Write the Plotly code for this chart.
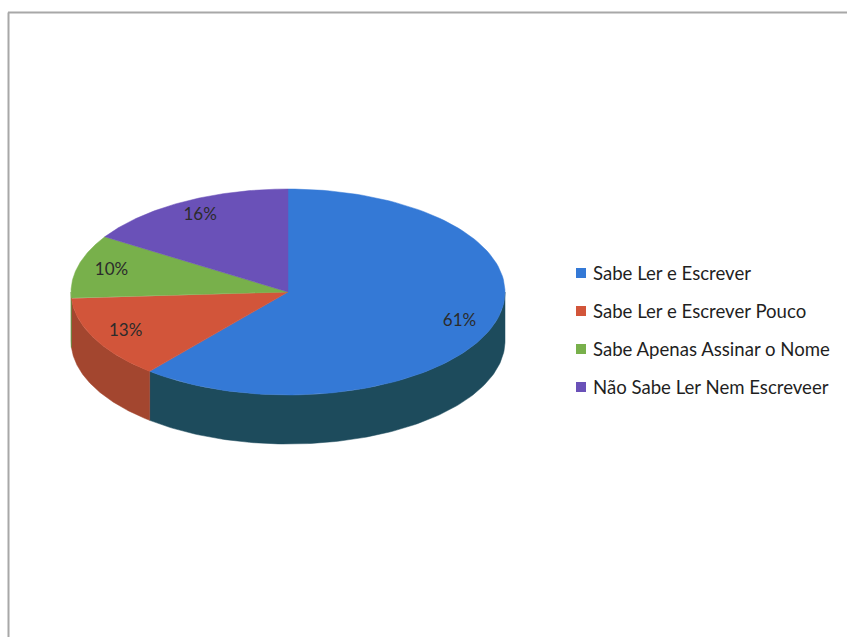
import numpy as np
import plotly.graph_objects as go

# Literacy categories and their shares (%)
labels = [
    "Sabe Ler e Escrever",
    "Sabe Ler e Escrever Pouco",
    "Sabe Apenas Assinar o Nome",
    "Não Sabe Ler Nem Escreveer",
]
values = [61, 13, 10, 16]
top_colors = ["#3479d6", "#d2553a", "#78b04b", "#6a51b8"]
side_colors = ["#1d4b5c", "#a3462f", "#5c8a38", "#513d92"]

# Geometry of the tilted pie (plot units = pixels)
cx, cy = 288, 292
rx, ry = 217, 103
depth = 49
label_r = 0.84

# Legend block placement
leg_x, leg_y0, leg_dy = 581, 273, 38


def rim(a0, a1, n=120):
    """Points on the top rim between angles a0..a1 (degrees, clockwise from 12 o'clock)."""
    t = np.radians(np.linspace(a0, a1, n))
    return cx + rx * np.sin(t), cy - ry * np.cos(t)


total = float(sum(values))
bounds = np.concatenate([[0], np.cumsum(values) / total * 360.0])

fig = go.Figure()

# side walls (only the front half, 90°..270°, is visible)
for i in range(len(values)):
    a0, a1 = max(bounds[i], 90), min(bounds[i + 1], 270)
    if a1 <= a0:
        continue
    x, y = rim(a0, a1)
    xs = np.concatenate([x, x[::-1], [x[0]]])
    ys = np.concatenate([y, y[::-1] + depth, [y[0]]])
    fig.add_trace(go.Scatter(
        x=xs, y=ys, mode="lines", fill="toself",
        fillcolor=side_colors[i], line=dict(color=side_colors[i], width=0.5),
        hoverinfo="skip", showlegend=False,
    ))

# top faces of the slices
for i in range(len(values)):
    x, y = rim(bounds[i], bounds[i + 1])
    xs = np.concatenate([[cx], x, [cx]])
    ys = np.concatenate([[cy], y, [cy]])
    fig.add_trace(go.Scatter(
        x=xs, y=ys, mode="lines", fill="toself",
        fillcolor=top_colors[i], line=dict(color=top_colors[i], width=0.5),
        name=labels[i], hoverinfo="name", showlegend=False,
    ))

# percentage labels at each slice's mid-angle
mid = np.radians((bounds[:-1] + bounds[1:]) / 2)
fig.add_trace(go.Scatter(
    x=cx + label_r * rx * np.sin(mid),
    y=cy - label_r * ry * np.cos(mid),
    mode="text",
    text=[f"{v}%" for v in values],
    textfont=dict(family="Lato", size=17, color="#2b2b2b"),
    hoverinfo="skip", showlegend=False,
))

# legend: colour squares plus category names
leg_rows = leg_y0 + leg_dy * np.arange(len(labels))
fig.add_trace(go.Scatter(
    x=[leg_x] * len(labels), y=leg_rows, mode="markers",
    marker=dict(symbol="square", size=10, color=top_colors, line=dict(width=0)),
    hoverinfo="skip", showlegend=False,
))
annotations = [
    dict(x=leg_x + 10, y=yy, xref="x", yref="y", text=lab, showarrow=False,
         xanchor="left", yanchor="middle",
         font=dict(family="Lato", size=18.6, color="#1f1f1f"))
    for lab, yy in zip(labels, leg_rows)
]

fig.update_layout(
    width=847, height=637,
    margin=dict(l=0, r=0, t=0, b=0),
    paper_bgcolor="white", plot_bgcolor="white",
    showlegend=False,
    xaxis=dict(range=[0, 847], visible=False, fixedrange=True),
    yaxis=dict(range=[637, 0], visible=False, fixedrange=True),
    annotations=annotations,
    shapes=[
        dict(type="line", xref="paper", yref="paper",
             x0=0.0095, x1=1.0, y0=1 - 12.5 / 637, y1=1 - 12.5 / 637,
             line=dict(color="#a8a8a8", width=2)),
        dict(type="line", xref="paper", yref="paper",
             x0=8.5 / 847, x1=8.5 / 847, y0=0, y1=1 - 12.5 / 637,
             line=dict(color="#a8a8a8", width=2)),
    ],
)

fig.write_html("out.html")
